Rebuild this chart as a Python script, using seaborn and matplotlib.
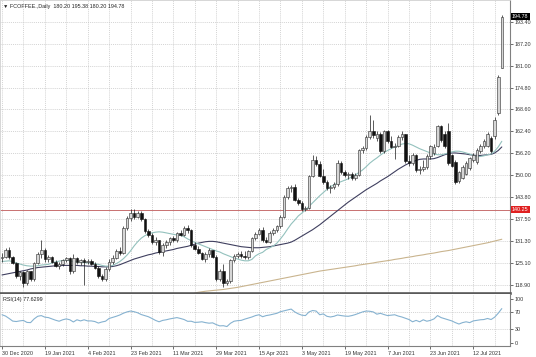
import numpy as np
import pandas as pd
import matplotlib
matplotlib.use("Agg")
import matplotlib.pyplot as plt
import matplotlib.transforms as mtransforms
import seaborn as sns

# ---------------- data ----------------
date_labels = ["30 Dec 2020", "19 Jan 2021", "4 Feb 2021", "23 Feb 2021", "11 Mar 2021",
               "29 Mar 2021", "15 Apr 2021", "3 May 2021", "19 May 2021", "7 Jun 2021",
               "23 Jun 2021", "12 Jul 2021"]
label_bars = [0, 12, 24, 36, 48, 60, 72, 84, 96, 108, 120, 132]

opens = [126.5, 127.0, 129.0, 126.8, 125.2, 121.5, 122.5, 119.5, 122.8, 120.6,
         125.2, 127.8, 129.0, 126.2, 126.8, 125.6, 124.4, 125.0, 126.0, 126.6,
         122.8, 126.6, 125.4, 126.0, 125.6, 125.8, 125.0, 123.8, 121.6, 120.6,
         123.4, 125.6, 126.6, 128.6, 128.0, 135.0, 137.8, 139.2, 138.2, 139.4,
         137.6, 134.2, 133.2, 131.2, 131.6, 128.2, 130.2, 131.0, 132.2, 131.6,
         133.6, 133.2, 135.2, 134.4, 130.4, 129.2, 128.0, 126.4, 127.6, 128.8,
         127.0, 120.6, 122.8, 119.6, 120.0, 126.0, 127.2, 127.8, 127.2, 126.8,
         128.6, 132.2, 133.4, 134.4, 131.6, 131.2, 133.8, 134.4, 135.6, 138.2,
         143.8, 146.4, 146.8, 143.0, 142.2, 140.4, 140.6, 149.8, 154.2, 153.2,
         149.8, 148.0, 146.4, 146.8, 147.4, 153.6, 151.0, 150.2, 150.4, 149.2,
         150.2, 157.0, 157.6, 160.8, 162.4, 160.4, 161.8, 156.8, 162.4, 159.6,
         158.0, 158.4, 160.8, 161.6, 154.0, 153.4, 155.6, 151.4, 151.8, 152.4,
         155.4, 156.4, 158.4, 163.8, 161.8, 162.4, 155.6, 153.8, 148.4, 149.2,
         150.4, 152.0, 154.4, 153.8, 156.8, 158.4, 158.4, 160.6, 161.0, 167.6,
         180.2]
highs = [128.0, 129.5, 129.6, 127.2, 125.6, 123.0, 123.0, 123.2, 123.0, 125.6,
         128.3, 131.8, 129.4, 127.4, 127.2, 126.0, 125.6, 126.4, 127.0, 126.8,
         127.8, 127.0, 126.4, 126.6, 126.4, 126.2, 125.4, 124.2, 122.2, 124.0,
         126.2, 127.4, 129.2, 129.8, 135.6, 138.4, 140.4, 140.4, 140.0, 139.8,
         138.0, 134.8, 133.6, 132.4, 131.8, 130.8, 131.6, 132.6, 132.8, 134.0,
         134.6, 135.6, 135.8, 134.8, 131.0, 130.0, 128.4, 128.2, 129.4, 129.0,
         127.4, 123.6, 124.8, 120.6, 126.4, 127.6, 128.4, 128.6, 128.6, 129.0,
         132.6, 134.0, 135.0, 135.4, 132.6, 134.2, 135.0, 136.0, 138.8, 144.4,
         147.0, 147.2, 147.4, 143.6, 142.6, 141.4, 150.2, 155.6, 155.4, 154.0,
         151.8, 148.6, 147.2, 148.0, 154.2, 154.0, 151.6, 151.0, 150.8, 150.6,
         157.4, 158.2, 161.4, 167.0, 165.6, 162.6, 162.2, 162.8, 162.8, 161.0,
         159.0, 161.4, 162.6, 161.8, 155.6, 156.4, 156.0, 152.6, 154.4, 156.0,
         158.6, 158.8, 164.2, 164.2, 162.4, 164.8, 156.0, 154.2, 151.2, 153.0,
         154.0, 155.2, 156.4, 157.6, 158.8, 160.2, 162.2, 161.2, 166.4, 178.4,
         195.38]
lows = [125.5, 126.5, 126.2, 124.8, 121.0, 120.5, 118.5, 119.0, 120.0, 120.2,
        124.8, 126.6, 125.6, 125.4, 125.2, 124.0, 123.6, 124.2, 125.4, 122.2,
        122.4, 125.0, 124.6, 119.0, 125.0, 124.6, 123.4, 121.0, 120.0, 120.2,
        123.0, 125.0, 126.2, 127.4, 127.8, 134.6, 137.0, 137.6, 137.8, 137.2,
        133.8, 132.6, 130.6, 130.2, 127.6, 127.2, 129.4, 130.4, 131.2, 131.2,
        132.8, 132.8, 133.8, 129.8, 128.8, 127.6, 126.0, 125.6, 127.0, 126.6,
        120.2, 120.0, 118.4, 119.0, 119.6, 125.4, 126.6, 126.6, 126.4, 126.4,
        128.2, 131.6, 133.0, 131.2, 130.8, 130.8, 133.0, 134.0, 135.2, 138.0,
        143.2, 145.2, 142.6, 141.6, 139.8, 139.8, 140.4, 149.4, 152.6, 149.4,
        147.4, 145.8, 145.0, 146.0, 147.0, 150.4, 149.6, 149.0, 148.6, 148.6,
        149.8, 156.4, 157.2, 160.2, 160.6, 159.6, 156.2, 156.4, 159.0, 157.6,
        154.6, 158.0, 160.0, 153.6, 152.6, 152.8, 150.8, 150.4, 151.2, 151.8,
        154.6, 155.8, 158.0, 159.4, 157.6, 152.8, 152.4, 147.6, 147.8, 148.8,
        150.0, 151.4, 153.8, 153.2, 156.2, 157.8, 158.0, 156.2, 160.2, 167.0,
        180.2]
closes = [127.0, 129.0, 126.8, 125.2, 121.5, 122.5, 119.5, 122.8, 120.6, 125.2,
          127.8, 129.0, 126.2, 126.8, 125.6, 124.4, 125.0, 126.0, 126.6, 122.8,
          126.6, 125.4, 126.0, 125.6, 125.8, 125.0, 123.8, 121.6, 120.6, 123.4,
          125.6, 126.6, 128.6, 128.0, 135.0, 137.8, 139.2, 138.2, 139.4, 137.6,
          134.2, 133.2, 131.2, 131.6, 128.2, 130.2, 131.0, 132.2, 131.6, 133.6,
          133.2, 135.2, 134.4, 130.4, 129.2, 128.0, 126.4, 127.6, 128.8, 127.0,
          120.6, 122.8, 119.6, 120.0, 126.0, 127.2, 127.8, 127.2, 126.8, 128.6,
          132.2, 133.4, 134.4, 131.6, 131.2, 133.8, 134.4, 135.6, 138.2, 143.8,
          146.4, 146.8, 143.0, 142.2, 140.4, 140.8, 149.8, 154.2, 153.2, 149.8,
          148.0, 146.4, 146.8, 147.4, 153.6, 151.0, 150.2, 150.4, 149.2, 150.2,
          157.0, 157.6, 160.8, 162.4, 161.4, 161.8, 156.8, 162.4, 159.6, 158.0,
          158.4, 160.8, 161.6, 154.0, 153.4, 155.6, 151.4, 151.8, 152.4, 155.4,
          158.2, 158.0, 163.8, 160.0, 158.2, 153.4, 152.6, 148.2, 150.8, 152.4,
          153.4, 154.8, 155.8, 157.0, 158.4, 159.6, 161.8, 156.8, 165.6, 177.8,
          194.78]

ma_fast = [125.6, 125.7, 125.8, 125.6, 125.2, 124.9, 124.6, 124.4, 124.3, 124.3,
           124.4, 124.6, 124.7, 124.8, 125.2, 125.5, 125.7, 125.9, 126.0, 125.8,
           125.6, 125.5, 125.4, 125.3, 125.2, 125.2, 125.0, 124.8, 124.5, 124.3,
           124.3, 124.5, 125.0, 125.6, 126.4, 127.4, 128.6, 130.0, 131.2, 132.2,
           132.9, 133.4, 133.7, 133.9, 134.0, 133.9, 133.7, 133.5, 133.3, 133.1,
           133.0, 132.6, 132.0, 131.5, 131.0, 130.6, 130.2, 129.8, 129.4, 129.0,
           128.6, 128.3, 127.8, 127.4, 127.0, 126.6, 126.3, 126.0, 125.8, 125.8,
           126.2, 127.2, 127.8, 128.2, 129.0, 129.5, 130.0, 130.8, 132.0, 133.3,
           134.8, 136.2, 137.3, 138.5, 139.3, 140.2, 141.2, 142.2, 143.2, 144.2,
           145.1, 146.0, 146.8, 147.3, 147.8, 148.2, 148.6, 149.0, 149.6, 150.1,
           150.8, 151.5, 152.4, 153.4, 154.2, 154.9, 155.7, 156.4, 157.0, 157.5,
           158.0, 158.4, 158.8, 159.0, 158.9, 158.5, 158.0, 157.5, 157.1, 156.7,
           156.3, 156.0, 155.8, 155.8, 156.0, 156.3, 156.6, 156.8, 156.8, 156.6,
           156.3, 156.0, 155.6, 155.3, 155.3, 155.5, 155.8, 156.0, 156.8, 158.0,
           159.6]
ma_slow = [121.8, 122.0, 122.2, 122.4, 122.6, 122.8, 123.0, 123.2, 123.5, 123.7,
           123.9, 124.0, 124.1, 124.2, 124.3, 124.4, 124.4, 124.5, 124.5, 124.5,
           124.5, 124.5, 124.4, 124.4, 124.3, 124.3, 124.2, 124.2, 124.1, 124.1,
           124.1, 124.2, 124.4, 124.7, 125.1, 125.5, 125.9, 126.3, 126.6, 126.9,
           127.2, 127.5, 127.7, 128.0, 128.2, 128.4, 128.6, 128.8, 129.0, 129.3,
           129.5, 129.7, 129.9, 130.2, 130.5, 130.8, 131.0, 131.2, 131.3, 131.3,
           131.2, 131.0, 130.8, 130.6, 130.4, 130.2, 130.0, 129.8, 129.7, 129.6,
           129.5, 129.5, 129.5, 129.6, 129.7, 129.8, 130.0, 130.2, 130.4, 130.6,
           130.8, 131.1, 131.6, 132.2, 132.8, 133.4, 134.0, 134.6, 135.3, 136.0,
           136.8, 137.6, 138.4, 139.2, 140.0, 140.8, 141.6, 142.4, 143.1, 143.8,
           144.5, 145.2, 145.9, 146.5, 147.1, 147.7, 148.4, 149.0, 149.6, 150.3,
           151.0, 151.7, 152.3, 152.9, 153.4, 153.8, 154.2, 154.5, 154.6, 154.6,
           154.6, 154.7, 155.0, 155.4, 155.8, 156.1, 156.3, 156.3, 156.2, 156.1,
           156.0, 155.8, 155.7, 155.6, 155.6, 155.7, 155.8, 155.9, 156.3, 157.0,
           158.0]
ma_long_first_bar = 54
ma_long = [116.7, 116.9, 117.05, 117.2, 117.3, 117.4, 117.5, 117.6, 117.7, 117.85,
           118.0, 118.15, 118.3, 118.5, 118.7, 118.9, 119.1, 119.3, 119.5, 119.7,
           119.9, 120.1, 120.3, 120.5, 120.7, 120.9, 121.1, 121.3, 121.5, 121.7,
           121.9, 122.1, 122.3, 122.5, 122.7, 122.9, 123.05, 123.2, 123.35, 123.5,
           123.65, 123.8, 123.95, 124.1, 124.25, 124.4, 124.6, 124.75, 124.9, 125.05,
           125.2, 125.4, 125.55, 125.7, 125.85, 126.0, 126.2, 126.35, 126.5, 126.7,
           126.85, 127.0, 127.2, 127.35, 127.5, 127.7, 127.85, 128.0, 128.2, 128.4,
           128.55, 128.7, 128.9, 129.1, 129.3, 129.5, 129.7, 129.9, 130.1, 130.3,
           130.5, 130.7, 130.9, 131.15, 131.4, 131.65, 131.9]

rsi = [63.5, 60.5, 55.0, 49.0, 48.0, 49.5, 50.5, 46.0, 45.5, 54.0,
       60.0, 61.6, 58.0, 57.0, 54.0, 51.0, 48.7, 52.0, 54.0, 52.0,
       47.0, 52.0, 49.4, 52.0, 49.4, 49.4, 48.0, 44.5, 47.0, 48.7,
       55.0, 57.5, 60.0, 63.0, 67.0, 70.0, 72.0, 70.5, 68.0, 64.0,
       61.6, 59.0, 55.0, 50.6, 47.4, 50.6, 52.0, 54.0, 55.5, 57.0,
       55.0, 52.6, 48.5, 48.7, 46.0, 46.5, 47.4, 45.5, 44.2, 45.0,
       41.0, 38.0, 38.5, 36.5, 44.0, 48.7, 50.0, 50.6, 53.5, 56.0,
       58.4, 61.6, 63.5, 59.0, 61.6, 63.0, 65.0, 66.8, 70.5, 72.5,
       74.5, 76.5, 70.0, 65.5, 62.5, 61.6, 70.0, 73.2, 72.0, 63.5,
       65.5, 60.0, 58.4, 60.0, 63.0, 61.6, 60.5, 60.0, 61.6, 64.0,
       67.0, 70.0, 72.0, 71.5, 70.0, 64.8, 66.8, 64.0, 61.6, 62.5,
       63.5, 60.5, 58.4, 55.5, 52.6, 47.4, 50.6, 47.4, 52.0, 48.7,
       50.6, 54.0, 61.6, 57.0, 54.5, 52.0, 49.4, 45.5, 42.3, 45.5,
       47.4, 45.5, 49.4, 50.6, 52.0, 52.6, 55.0, 52.6, 58.0, 67.0,
       77.6]

price_ticks = [193.40, 187.20, 181.00, 174.80, 168.60, 162.40, 156.20, 150.00,
               143.80, 137.50, 131.30, 125.10, 118.90]
rsi_ticks = [100, 70, 30, 0]
rsi_levels = [70, 30]
level_line = 140.25
title_text = "\u25bc FCOFFEE.,Daily  180.20 195.38 180.20 194.78"
rsi_title = "RSI(14) 77.6299"

# ---------------- styling ----------------
sns.set_theme(style="white")
plt.rcParams["font.family"] = ["Liberation Sans", "DejaVu Sans"]
FS = 3.9
GRID = "#c4c4c4"
FRAME = "#808080"

df = pd.DataFrame({"bar": np.arange(len(closes)), "open": opens, "high": highs,
                   "low": lows, "close": closes, "ma_fast": ma_fast,
                   "ma_slow": ma_slow, "rsi": rsi})
df_long = pd.DataFrame({"bar": np.arange(ma_long_first_bar, ma_long_first_bar + len(ma_long)),
                        "ma_long": ma_long})

W, H = 536, 357
fig = plt.figure(figsize=(W / 100, H / 100), dpi=100)
ax = fig.add_axes([0.0, 1 - 293 / H, 510 / W, 293 / H])
ax_r = fig.add_axes([0.0, 1 - 346 / H, 510 / W, 52 / H])

xmin, xmax = -2 / 3.57, (510 - 2) / 3.57
grid_bars = np.arange(0, 144, 6)

# ---- main panel ----
ax.set_xlim(xmin, xmax)
ax.set_ylim(116.7, 199.56)
for gb in grid_bars:
    ax.axvline(gb, color=GRID, lw=0.5, ls=(0, (1.5, 1.5)), zorder=0)
for pt in price_ticks:
    ax.axhline(pt, color=GRID, lw=0.5, ls=(0, (1.5, 1.5)), zorder=0)

ax.axhline(level_line, color="#c87070", lw=0.7, zorder=1)

sns.lineplot(data=df_long, x="bar", y="ma_long", ax=ax, color="#c9b48e", lw=0.8, zorder=2)
sns.lineplot(data=df, x="bar", y="ma_slow", ax=ax, color="#3f3f5f", lw=0.8, zorder=2)
sns.lineplot(data=df, x="bar", y="ma_fast", ax=ax, color="#93c1bd", lw=0.8, zorder=2)

up = df["close"] >= df["open"]
body_lo = np.minimum(df["open"], df["close"])
body_h = np.maximum((df["close"] - df["open"]).abs(), 0.15)
ax.vlines(df["bar"], df["low"], df["high"], color="#1a1a1a", lw=0.5, zorder=3)
ax.bar(df["bar"][up], body_h[up], bottom=body_lo[up], width=0.72,
       color="#d6d6d6", edgecolor="#2a2a2a", linewidth=0.4, zorder=4)
ax.bar(df["bar"][~up], body_h[~up], bottom=body_lo[~up], width=0.72,
       color="#111111", edgecolor="#111111", linewidth=0.4, zorder=4)

ax.set_xlabel("")
ax.set_ylabel("")
ax.set_xticks([])
ax.yaxis.tick_right()
ax.set_yticks(price_ticks)
ax.set_yticklabels([f"{v:.2f}" for v in price_ticks], fontsize=FS, color="#222222")
ax.tick_params(axis="y", which="both", right=True, length=2, width=0.5, pad=1.5,
               colors="#333333")
for s in ["top", "left"]:
    ax.spines[s].set_color("#d0d0d0")
    ax.spines[s].set_linewidth(0.6)
ax.spines["right"].set_color(FRAME)
ax.spines["right"].set_linewidth(0.8)
ax.spines["bottom"].set_color("#5a5a5a")
ax.spines["bottom"].set_linewidth(1.9)

trans = mtransforms.blended_transform_factory(ax.transAxes, ax.transData)
ax.text(1.004, closes[-1], f"{closes[-1]:.2f}", transform=trans, fontsize=FS,
        color="white", va="center", ha="left", clip_on=False, zorder=10,
        bbox=dict(boxstyle="square,pad=0.18", fc="black", ec="black", lw=0))
ax.text(1.004, level_line, f"{level_line:.2f}", transform=trans, fontsize=FS,
        color="white", va="center", ha="left", clip_on=False, zorder=10,
        bbox=dict(boxstyle="square,pad=0.18", fc="#e02020", ec="#e02020", lw=0))
ax.text(0.006, 0.985, title_text, transform=ax.transAxes, fontsize=FS,
        color="#222222", va="top", ha="left")

# ---- RSI panel ----
ax_r.set_xlim(xmin, xmax)
ax_r.set_ylim(-8, 111)
for gb in grid_bars:
    ax_r.axvline(gb, color=GRID, lw=0.5, ls=(0, (1.5, 1.5)), zorder=0)
for lv in rsi_levels:
    ax_r.axhline(lv, color=GRID, lw=0.5, ls=(0, (1.5, 1.5)), zorder=0)
sns.lineplot(data=df, x="bar", y="rsi", ax=ax_r, color="#86b2d0", lw=0.8, zorder=2)
ax_r.set_xlabel("")
ax_r.set_ylabel("")
ax_r.yaxis.tick_right()
ax_r.set_yticks(rsi_ticks)
ax_r.set_yticklabels([str(v) for v in rsi_ticks], fontsize=FS, color="#222222")
ax_r.tick_params(axis="y", right=True, length=2, width=0.5, pad=1.5, colors="#333333")
ax_r.set_xticks(label_bars)
ax_r.set_xticklabels(date_labels, fontsize=FS, color="#222222", ha="left")
ax_r.tick_params(axis="x", bottom=True, length=2, width=0.5, pad=1.5, colors="#333333")
for lbl in ax_r.get_xticklabels():
    lbl.set_horizontalalignment("left")
ax_r.spines["top"].set_visible(False)
ax_r.spines["left"].set_color("#d0d0d0")
ax_r.spines["left"].set_linewidth(0.6)
ax_r.spines["right"].set_color(FRAME)
ax_r.spines["right"].set_linewidth(0.8)
ax_r.spines["bottom"].set_color(FRAME)
ax_r.spines["bottom"].set_linewidth(0.8)
ax_r.text(0.006, 0.95, rsi_title, transform=ax_r.transAxes, fontsize=FS,
          color="#222222", va="top", ha="left")

fig.savefig("out.png", dpi=100, facecolor="white")
